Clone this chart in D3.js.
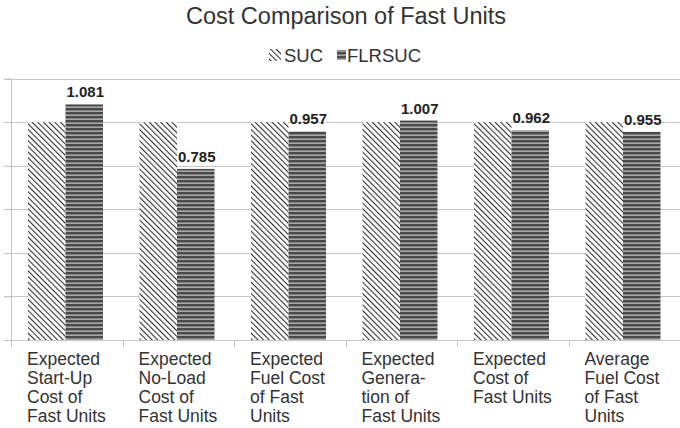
<!DOCTYPE html>
<html>
<head>
<meta charset="utf-8">
<script src="https://cdn.jsdelivr.net/npm/d3@7"></script>
<style>
  html, body { margin: 0; padding: 0; background: #fff; }
  svg { display: block; font-family: "Liberation Sans", Arial, sans-serif; }
</style>
</head>
<body>
<svg id="chart" width="680" height="428"></svg>
<script>
// Category labels, each split into its drawn lines
const categories = [
  ["Expected", "Start-Up", "Cost of", "Fast Units"],
  ["Expected", "No-Load", "Cost of", "Fast Units"],
  ["Expected", "Fuel Cost", "of Fast", "Units"],
  ["Expected", "Genera-", "tion of", "Fast Units"],
  ["Expected", "Cost of", "Fast Units"],
  ["Average", "Fuel Cost", "of Fast", "Units"]
];
const seriesNames = ["SUC", "FLRSUC"];
const sucValues = [1, 1, 1, 1, 1, 1];
const flrsucValues = [1.081, 0.785, 0.957, 1.007, 0.962, 0.955];
const yTicks = [0, 0.2, 0.4, 0.6, 0.8, 1.0, 1.2];

const svg = d3.select("#chart");
const W = 680, H = 428;
const m = { left: 11, right: 0, top: 78.5, bottom: 88 };
const plotBottom = 340;

// Fill patterns: back-diagonal hatch for SUC, horizontal stripes for FLRSUC
const defs = svg.append("defs");
const diag = defs.append("pattern")
  .attr("id", "pat-suc").attr("patternUnits", "userSpaceOnUse")
  .attr("width", 4).attr("height", 4)
  .attr("patternTransform", "rotate(-45)");
diag.append("rect").attr("width", 4).attr("height", 4).attr("fill", "#fff");
diag.append("rect").attr("x", 0).attr("y", 0).attr("width", 1.1).attr("height", 4).attr("fill", "#333");

const horiz = defs.append("pattern")
  .attr("id", "pat-flr").attr("patternUnits", "userSpaceOnUse")
  .attr("width", 8).attr("height", 4);
horiz.append("rect").attr("width", 8).attr("height", 4).attr("fill", "#a8a8a8");
horiz.append("rect").attr("y", 0).attr("width", 8).attr("height", 2.4).attr("fill", "#4a4a4a");

const fills = { SUC: "url(#pat-suc)", FLRSUC: "url(#pat-flr)" };

const x = d3.scaleBand()
  .domain(d3.range(categories.length))
  .range([m.left, W - m.right])
  .paddingInner(0).paddingOuter(0);

const y = d3.scaleLinear().domain([0, 1.2]).range([plotBottom, m.top]);

const xs = d3.scaleBand().domain(seriesNames)
  .range([17, 17 + 75]);

// Gridlines
svg.append("g")
  .selectAll("line").data(yTicks.slice(1)).join("line")
  .attr("x1", 4).attr("x2", W)
  .attr("y1", d => Math.round(y(d)) + 0.5).attr("y2", d => Math.round(y(d)) + 0.5)
  .attr("stroke", "#c6c6c6").attr("stroke-width", 1);

// Left axis (no labels)
const yAxis = svg.append("g")
  .attr("transform", `translate(${m.left + 0.5},0)`)
  .call(d3.axisLeft(y).tickValues(yTicks).tickSize(7).tickFormat(""));
yAxis.select(".domain").attr("stroke", "#c6c6c6").attr("d", `M0,${m.top}V${plotBottom + 7}`);
yAxis.selectAll(".tick line").attr("stroke", "#c6c6c6");

// Bars
const rows = categories.map((c, i) => ({ i, SUC: sucValues[i], FLRSUC: flrsucValues[i] }));
const groups = svg.append("g").selectAll("g").data(rows).join("g")
  .attr("transform", d => `translate(${x(d.i)},0)`);

groups.selectAll("rect").data(d => seriesNames.map(k => ({ key: k, value: d[k] })))
  .join("rect")
  .attr("x", d => xs(d.key))
  .attr("width", xs.bandwidth())
  .attr("y", d => y(d.value))
  .attr("height", d => plotBottom - y(d.value))
  .attr("fill", d => fills[d.key]);

// Value labels on FLRSUC bars
groups.append("text")
  .attr("x", xs("FLRSUC") + xs.bandwidth() / 2 + 1)
  .attr("y", d => y(d.FLRSUC) - 7)
  .attr("text-anchor", "middle")
  .attr("font-size", 15).attr("font-weight", "bold").attr("fill", "#222")
  .text(d => d3.format(".3f")(d.FLRSUC));

// Bottom axis
const xAxis = svg.append("g");
xAxis.append("line")
  .attr("x1", 4).attr("x2", W).attr("y1", plotBottom + 0.5).attr("y2", plotBottom + 0.5)
  .attr("stroke", "#c6c6c6");
xAxis.selectAll("line.tk").data(d3.range(1, categories.length)).join("line")
  .attr("class", "tk")
  .attr("x1", d => Math.round(x(d)) + 0.5).attr("x2", d => Math.round(x(d)) + 0.5)
  .attr("y1", plotBottom).attr("y2", plotBottom + 7)
  .attr("stroke", "#c6c6c6");

// Category labels
const lbl = svg.append("g").selectAll("text").data(categories).join("text")
  .attr("x", (d, i) => x(i) + 16)
  .attr("y", 365)
  .attr("font-size", 17.5).attr("fill", "#333");
lbl.selectAll("tspan").data(d => d).join("tspan")
  .attr("x", function () { return d3.select(this.parentNode).attr("x"); })
  .attr("dy", (d, j) => j === 0 ? 0 : 19)
  .text(d => d);

// Title
svg.append("text")
  .attr("x", 346).attr("y", 24)
  .attr("text-anchor", "middle")
  .attr("font-size", 23.5).attr("fill", "#333")
  .text("Cost Comparison of Fast Units");

// Legend
const legend = svg.append("g");
legend.append("rect").attr("x", 269).attr("y", 49).attr("width", 12).attr("height", 12)
  .attr("fill", fills.SUC);
legend.append("text").attr("x", 284).attr("y", 62).attr("font-size", 18.5).attr("fill", "#333").text("SUC");
legend.append("rect").attr("x", 337).attr("y", 50).attr("width", 9).attr("height", 10)
  .attr("fill", fills.FLRSUC);
legend.append("text").attr("x", 347).attr("y", 62).attr("font-size", 18.5).attr("fill", "#333").text("FLRSUC");
</script>
</body>
</html>
